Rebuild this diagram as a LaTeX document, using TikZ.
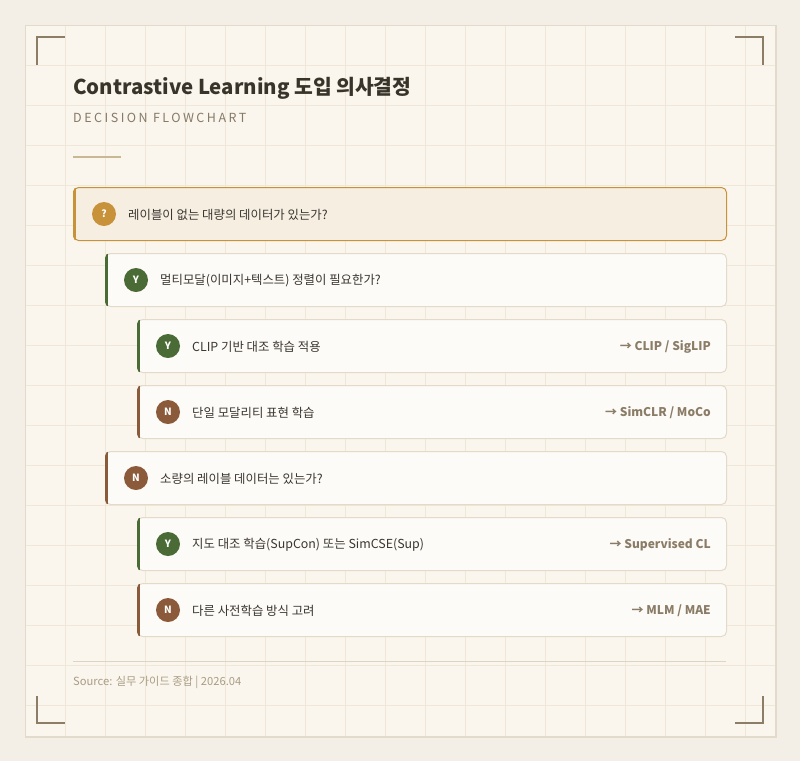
\documentclass[tikz,border=0pt]{standalone}
\usepackage{fontspec}
\setmainfont{Noto Sans CJK KR}
\definecolor{outerbg}{HTML}{F3EFE7}
\definecolor{cardbg}{HTML}{FAF6EE}
\definecolor{cardline}{HTML}{E2DACB}
\definecolor{gridc}{HTML}{EFE7D8}
\definecolor{cornerc}{HTML}{8C7E66}
\definecolor{titlec}{HTML}{38342A}
\definecolor{subc}{HTML}{857A66}
\definecolor{shortc}{HTML}{C9B894}
\definecolor{qfill}{HTML}{F6EEE1}
\definecolor{goldc}{HTML}{C8923A}
\definecolor{boxfill}{HTML}{FDFBF7}
\definecolor{boxline}{HTML}{E3DACA}
\definecolor{greenc}{HTML}{4A6B35}
\definecolor{brownc}{HTML}{8B5A3A}
\definecolor{textc}{HTML}{3A3630}
\definecolor{resc}{HTML}{8A7C66}
\definecolor{footline}{HTML}{DDD4C4}
\definecolor{foottext}{HTML}{A99C84}
\tikzset{
  box/.style={draw=boxline, line width=1pt, fill=boxfill, rounded corners=5pt,
    minimum height=53pt, inner sep=0pt, anchor=north west},
  qbox/.style={box, draw=goldc, fill=qfill},
  badge/.style={circle, minimum size=24pt, inner sep=0pt, text=white,
    font=\fontsize{10}{12}\selectfont\bfseries},
  qtext/.style={anchor=west, inner sep=0pt, text=textc, font=\fontsize{12.4}{14}\selectfont},
  rtext/.style={anchor=east, inner sep=0pt, text=resc, font=\fontsize{12}{14}\selectfont\bfseries},
  corner/.style={draw=cornerc, line width=2pt},
}
\newcommand\accentstrip[2]{%
  \begin{scope}
    \clip[rounded corners=5pt] (#1.north west) rectangle (#1.south east);
    \fill[#2] ([xshift=-1pt,yshift=1pt]#1.north west) rectangle ([xshift=2.5pt,yshift=-1pt]#1.south west);
  \end{scope}}
\begin{document}
\begin{tikzpicture}[x=1pt,y=-1pt]
  \fill[outerbg] (0,0) rectangle (800,761);
  \useasboundingbox (0,0) rectangle (800,761);
  \node[draw=cardline, line width=1pt, fill=cardbg, minimum width=750pt, minimum height=711pt,
        inner sep=0pt, anchor=north west] (card) at (25,25) {};
  \begin{scope}
    \clip (25,25) rectangle (775,736);
    \foreach \x in {65,105,...,745} \draw[gridc, line width=1pt] (\x,25) -- (\x,736);
    \foreach \y in {65,105,...,705} \draw[gridc, line width=1pt] (25,\y) -- (775,\y);
  \end{scope}
  \draw[cardline, line width=1pt] (card.north west) rectangle (card.south east);
  % corners
  \coordinate (c1) at (37,37); \coordinate (c2) at (763,37);
  \coordinate (c3) at (37,723); \coordinate (c4) at (763,723);
  \draw[corner] ([yshift=-28pt]c1) -- (c1) -- ([xshift=28pt]c1);
  \draw[corner] ([xshift=-28pt]c2) -- (c2) -- ([yshift=-28pt]c2);
  \draw[corner] ([yshift=27pt]c3) -- (c3) -- ([xshift=28pt]c3);
  \draw[corner] ([xshift=-28pt]c4) -- (c4) -- ([yshift=27pt]c4);
  % title
  \node[anchor=base west, inner sep=0pt, text=titlec, font=\fontsize{20.4}{24}\selectfont\bfseries]
    (title) at (73,94) {Contrastive Learning 도입 의사결정};
  \node[anchor=base west, inner sep=0pt, text=subc,
        font=\fontsize{12.5}{14}\selectfont\addfontfeatures{LetterSpace=20}]
    (sub) at (73,122) {DECISION FLOWCHART};
  \draw[shortc, line width=2pt] (73,157) coordinate (s0) -- (121,157) coordinate (s1);
  % boxes
  \node[qbox, minimum width=653pt] (b1) at (73,187) {};
  \accentstrip{b1}{goldc}
  \node[box, minimum width=621pt] (b2) at (105,253) {};
  \accentstrip{b2}{greenc}
  \node[box, minimum width=589pt] (b3) at (137,319) {};
  \accentstrip{b3}{greenc}
  \node[box, minimum width=589pt] (b4) at (137,385) {};
  \accentstrip{b4}{brownc}
  \node[box, minimum width=621pt] (b5) at (105,451) {};
  \accentstrip{b5}{brownc}
  \node[box, minimum width=589pt] (b6) at (137,517) {};
  \accentstrip{b6}{greenc}
  \node[box, minimum width=589pt] (b7) at (137,583) {};
  \accentstrip{b7}{brownc}
  % badges
  \node[badge, fill=goldc] (g1) at ([xshift=31pt]b1.west) {?};
  \node[badge, fill=greenc] (g2) at ([xshift=31pt]b2.west) {Y};
  \node[badge, fill=greenc] (g3) at ([xshift=31pt]b3.west) {Y};
  \node[badge, fill=brownc] (g4) at ([xshift=31pt]b4.west) {N};
  \node[badge, fill=brownc] (g5) at ([xshift=31pt]b5.west) {N};
  \node[badge, fill=greenc] (g6) at ([xshift=31pt]b6.west) {Y};
  \node[badge, fill=brownc] (g7) at ([xshift=31pt]b7.west) {N};
  % texts
  \node[qtext] (t1) at ([xshift=55pt,yshift=-0.5pt]b1.west) {레이블이 없는 대량의 데이터가 있는가?};
  \node[qtext] (t2) at ([xshift=55pt,yshift=-0.5pt]b2.west) {멀티모달(이미지+텍스트) 정렬이 필요한가?};
  \node[qtext] (t3) at ([xshift=55pt,yshift=-0.5pt]b3.west) {CLIP 기반 대조 학습 적용};
  \node[qtext] (t4) at ([xshift=55pt,yshift=-0.5pt]b4.west) {단일 모달리티 표현 학습};
  \node[qtext] (t5) at ([xshift=55pt,yshift=-0.5pt]b5.west) {소량의 레이블 데이터는 있는가?};
  \node[qtext] (t6) at ([xshift=55pt,yshift=-0.5pt]b6.west) {지도 대조 학습(SupCon) 또는 SimCSE(Sup)};
  \node[qtext] (t7) at ([xshift=55pt,yshift=-0.5pt]b7.west) {다른 사전학습 방식 고려};
  \node[rtext] (r3) at ([xshift=-16pt,yshift=-0.5pt]b3.east) {→ CLIP / SigLIP};
  \node[rtext] (r4) at ([xshift=-16pt,yshift=-0.5pt]b4.east) {→ SimCLR / MoCo};
  \node[rtext] (r6) at ([xshift=-16pt,yshift=-0.5pt]b6.east) {→ Supervised CL};
  \node[rtext] (r7) at ([xshift=-16pt,yshift=-0.5pt]b7.east) {→ MLM / MAE};
  % footer
  \draw[footline, line width=1pt] (73,661) coordinate (f0) -- (726,661) coordinate (f1);
  \node[anchor=base west, inner sep=0pt, text=foottext, font=\fontsize{11.2}{13}\selectfont]
    (foot) at (73,685) {Source: 실무 가이드 종합 | 2026.04};
\end{tikzpicture}
\end{document}
